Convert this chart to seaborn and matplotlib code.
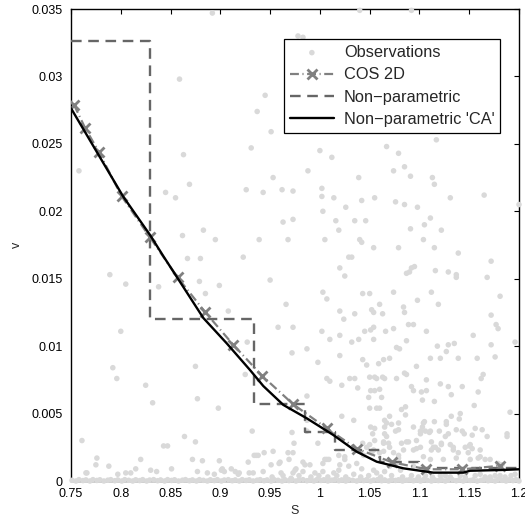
import matplotlib
matplotlib.use("Agg")
import matplotlib.pyplot as plt
import seaborn as sns
import pandas as pd

# ---------------- data ----------------
# Observations (S, v)
obs_points = [
    (0.892,0.0347),(0.859,0.0298),(0.937,0.0274),(0.931,0.0247),(0.863,0.0242),(0.758,0.0230),(0.869,0.0220),(0.926,0.0216),(0.845,0.0214),(0.855,0.0210),
    (0.883,0.0186),(0.862,0.0182),(0.895,0.0179),(0.939,0.0179),(0.867,0.0165),(0.880,0.0165),(0.923,0.0166),
    (1.040,0.0349),(1.092,0.0349),(0.978,0.0330),(0.983,0.0329),(0.945,0.0286),(0.951,0.0259),(1.000,0.0245),(1.067,0.0248),(1.079,0.0243),(1.012,0.0240),(1.117,0.0253),
    (0.953,0.0225),(0.988,0.0230),(1.039,0.0225),(1.074,0.0230),(1.085,0.0233),(1.091,0.0226),(1.113,0.0225),(1.115,0.0220),
    (0.943,0.0214),(0.962,0.0216),(0.973,0.0215),(1.002,0.0217),(1.002,0.0211),(1.014,0.0210),(1.042,0.0208),(1.055,0.0210),(1.076,0.0207),(1.085,0.0205),(1.098,0.0203),(1.131,0.0210),(1.165,0.0212),(1.200,0.0205),
    (1.003,0.0200),(1.026,0.0203),(0.963,0.0192),(0.973,0.0194),(1.016,0.0193),(1.019,0.0186),(1.035,0.0193),(1.046,0.0193),(1.091,0.0187),(1.105,0.0190),(1.111,0.0195),(1.122,0.0186),
    (0.968,0.0179),(1.005,0.0179),(1.040,0.0179),(1.042,0.0177),(1.054,0.0173),(1.079,0.0173),(1.104,0.0179),(1.115,0.0173),(1.139,0.0169),(1.029,0.0166),(1.032,0.0166),
    (1.020,0.0158),(1.025,0.0152),(0.950,0.0149),(1.095,0.0159),(1.092,0.0158),(1.087,0.0154),(1.090,0.0155),(1.116,0.0156),(1.129,0.0155),(1.137,0.0153),(1.137,0.0151),(1.168,0.0151),(1.172,0.0163),
    (1.003,0.0140),(1.007,0.0135),(1.043,0.0139),(1.050,0.0139),(1.074,0.0140),(1.112,0.0140),(1.181,0.0137),
    (0.966,0.0131),(1.098,0.0134),(1.060,0.0131),(1.052,0.0127),(1.054,0.0125),(1.084,0.0129),(1.085,0.0125),(1.119,0.0131),(1.020,0.0126),(1.035,0.0124),(1.063,0.0124),(1.172,0.0123),
    (1.024,0.0120),(0.958,0.0114),(0.973,0.0114),(1.002,0.0111),(1.020,0.0108),(1.045,0.0111),(1.051,0.0112),(1.054,0.0114),(1.066,0.0111),(1.074,0.0113),(1.089,0.0116),(1.094,0.0116),(1.107,0.0111),(1.154,0.0108),(1.177,0.0116),(1.179,0.0113),
    (1.010,0.0105),(1.032,0.0103),(1.039,0.0105),(1.054,0.0105),(1.087,0.0104),(1.118,0.0100),(1.129,0.0101),(1.135,0.0102),(1.172,0.0101),(1.196,0.0103),
    (0.972,0.0095),(0.987,0.0098),(1.020,0.0093),(1.077,0.0099),(1.080,0.0098),(1.043,0.0090),(1.047,0.0086),(1.059,0.0087),(1.064,0.0090),(1.070,0.0091),(1.127,0.0096),(1.111,0.0091),(1.121,0.0091),(1.139,0.0091),(1.158,0.0091),(1.176,0.0092),(0.998,0.0088),(1.097,0.0085),
    (1.007,0.0076),(1.010,0.0074),(1.022,0.0071),(1.030,0.0076),(1.035,0.0076),(1.050,0.0077),(1.055,0.0077),(1.057,0.0076),(1.063,0.0077),(1.065,0.0076),(1.077,0.0076),(1.085,0.0080),(1.087,0.0079),(1.107,0.0075),(1.162,0.0076),(1.164,0.0079),
    (1.038,0.0069),(1.051,0.0067),(1.055,0.0067),(1.060,0.0068),(1.092,0.0070),(1.094,0.0067),(1.102,0.0066),(1.107,0.0067),(1.121,0.0072),(1.129,0.0070),(1.143,0.0070),(1.159,0.0066),
    (0.987,0.0063),(1.049,0.0062),(1.062,0.0062),(1.103,0.0060),(1.115,0.0059),(1.132,0.0064),(1.155,0.0056),
    (1.050,0.0054),(1.057,0.0054),(1.060,0.0054),(1.082,0.0053),(1.086,0.0055),(1.141,0.0050),(1.191,0.0051),
    (1.022,0.0048),(1.034,0.0045),(1.070,0.0048),(1.072,0.0042),(1.067,0.0043),(1.079,0.0043),(1.105,0.0044),(1.103,0.0040),(1.115,0.0044),(1.127,0.0044),(1.140,0.0046),(0.987,0.0045),
    (0.972,0.0036),(0.987,0.0037),(1.051,0.0040),(1.053,0.0035),(1.055,0.0039),(1.065,0.0035),(1.067,0.0033),(1.079,0.0038),(1.094,0.0040),(1.101,0.0035),(1.110,0.0036),(1.120,0.0037),(1.126,0.0033),(1.129,0.0035),(1.143,0.0037),(1.145,0.0035),(1.153,0.0034),(1.168,0.0033),(1.188,0.0035),(1.188,0.0033),
    (0.953,0.0022),(0.998,0.0028),(1.043,0.0028),(1.047,0.0025),(1.050,0.0027),(1.064,0.0029),(1.069,0.0028),(1.087,0.0029),(1.097,0.0024),(1.101,0.0025),(1.112,0.0023),(1.116,0.0025),(1.122,0.0027),(1.134,0.0025),(1.150,0.0026),(1.153,0.0024),(1.161,0.0023),
    (0.944,0.0021),(0.968,0.0021),(0.973,0.0021),(1.005,0.0016),(1.009,0.0016),(1.019,0.0019),(1.025,0.0018),(0.960,0.0014),(0.985,0.0012),
    (0.789,0.0153),(0.805,0.0146),(0.838,0.0144),(0.879,0.0148),(0.899,0.0145),(0.885,0.0139),(0.908,0.0126),(0.800,0.0111),(0.927,0.0103),(0.792,0.0084),
    (0.796,0.0076),(0.875,0.0085),(0.925,0.0079),(0.825,0.0071),(0.832,0.0058),(0.877,0.0061),(0.898,0.0054),(0.932,0.0037),(0.864,0.0033),(0.875,0.0029),
    (0.761,0.0030),(0.843,0.0026),(0.847,0.0026),(0.936,0.0019),(0.776,0.0017),(0.820,0.0016),(0.872,0.0016),(0.882,0.0015),(0.899,0.0015),(0.928,0.0014),
    (0.775,0.0012),(0.788,0.0011),(0.815,0.0009),(0.851,0.0009),(0.911,0.0009),(0.766,0.0006),(0.797,0.0005),(0.830,0.0008),(0.836,0.0007),(0.877,0.0007),
    (0.901,0.0008),(0.915,0.0007),(0.918,0.0005),(0.929,0.0006),
    (1.065,0.0045),(1.065,0.0040),(1.076,0.0037),(1.086,0.0049),(1.104,0.0043),(1.106,0.0037),(1.111,0.0037),(1.127,0.0042),(1.132,0.0048),(1.137,0.0038),
    (1.055,0.0030),(1.064,0.0028),(1.070,0.0025),(1.082,0.0028),(1.084,0.0023),(1.089,0.0029),(1.097,0.0030),(1.101,0.0037),(1.112,0.0029),(1.114,0.0025),
    (1.119,0.0023),(1.122,0.0028),(1.131,0.0027),(1.134,0.0023),(1.139,0.0021),(1.146,0.0025),(1.149,0.0021),(1.151,0.0027),(1.161,0.0018),(1.166,0.0016),
    (1.171,0.0016),(1.156,0.0039),(1.163,0.0038),
    (1.054,0.0023),(1.060,0.0021),(1.074,0.0021),(1.079,0.0017),(1.094,0.0023),(1.104,0.0018),(1.111,0.0016),(1.124,0.0016),(1.137,0.0017),(1.151,0.0016),
    (1.159,0.0017),(1.179,0.0013),(1.183,0.0012),
    (0.983,0.0014),(0.990,0.0012),(1.003,0.0013),(1.007,0.0016),(0.975,0.0008),(0.983,0.0007),(0.995,0.0006),(1.003,0.0007),(1.014,0.0006),(1.019,0.0008),
    (1.020,0.0012),(1.025,0.0016),(1.029,0.0011),(1.037,0.0013),(1.042,0.0009),(1.054,0.0008),(1.057,0.0006),(1.065,0.0007),(1.070,0.0011),(1.077,0.0013),
    (1.081,0.0008),(1.044,0.0019),(1.052,0.0021),(1.064,0.0022),(1.079,0.0019),
    (1.094,0.0011),(1.121,0.0004),(1.141,0.0004),(1.161,0.0005),(1.181,0.0004),(1.196,0.0005),(1.106,0.0004),(1.131,0.0003),(1.171,0.0003),
    (0.765,0.0006),(0.805,0.0006),(0.810,0.0006),(0.887,0.0006),(0.894,0.0005),(0.902,0.0009),(0.904,0.0007),(0.919,0.0006),(0.934,0.0019),(0.938,0.0019),
    (0.933,0.0006),(0.943,0.0007),(0.951,0.0012),(0.959,0.0013),(0.961,0.0006),(0.969,0.0016),(0.973,0.0006),(0.974,0.0028),(0.976,0.0009),
    (0.952,0.0003),(0.963,0.0004),(0.971,0.0002),(0.979,0.0004),(0.991,0.0003),(0.999,0.0004),(1.008,0.0003),(1.017,0.0004),(1.026,0.0003),(1.034,0.0005),
    (1.041,0.0003),(1.049,0.0004),(1.061,0.0003),(1.072,0.0004),(1.083,0.0003),(1.092,0.0004),(1.099,0.0003),(1.113,0.0003),(1.126,0.0004),(1.146,0.0003),
    (1.156,0.0004),(1.166,0.0003),(1.176,0.0004),(1.186,0.0003),(1.192,0.0004),
]
# Observations lying on / near v = 0 (dense band along the bottom)
band_points = [
    (0.751,0.00005),(0.755,0.0000),(0.758,0.0001),(0.762,0.00003),(0.765,0.00008),(0.769,0.0000),(0.772,0.0001),(0.776,0.00004),(0.779,0.00009),(0.783,0.0000),
    (0.787,0.00006),(0.790,0.0001),(0.794,0.00002),(0.797,0.00008),(0.801,0.0000),(0.804,0.0001),(0.808,0.00005),(0.812,0.0000),(0.815,0.00009),(0.819,0.00003),
    (0.822,0.0001),(0.826,0.0000),(0.829,0.00007),(0.833,0.0001),(0.837,0.00002),(0.840,0.00008),(0.844,0.0000),(0.847,0.0001),(0.851,0.00004),(0.854,0.00009),
    (0.858,0.0000),(0.862,0.00006),(0.865,0.0001),(0.869,0.00002),(0.872,0.00008),(0.876,0.0000),(0.879,0.0001),(0.883,0.00005),(0.887,0.0000),(0.890,0.00009),
    (0.894,0.00003),(0.897,0.0001),(0.901,0.0000),(0.904,0.00007),(0.908,0.0001),(0.912,0.00002),(0.915,0.00008),(0.919,0.0000),(0.922,0.0001),(0.926,0.00004),
    (0.929,0.00009),(0.933,0.0000),(0.937,0.00006),(0.940,0.0001),(0.944,0.00002),(0.947,0.00008),(0.951,0.0000),(0.954,0.0001),(0.958,0.00005),(0.962,0.0000),
    (0.965,0.00009),(0.969,0.00003),(0.972,0.0001),(0.976,0.0000),(0.979,0.00007),(0.983,0.0001),(0.987,0.00002),(0.990,0.00008),(0.994,0.0000),(0.997,0.0001),
    (1.001,0.00004),(1.004,0.00009),(1.008,0.0000),(1.012,0.00006),(1.015,0.0001),(1.019,0.00002),(1.022,0.00008),(1.026,0.0000),(1.029,0.0001),(1.033,0.00005),
    (1.037,0.0000),(1.040,0.00009),(1.044,0.00003),(1.047,0.0001),(1.051,0.0000),(1.054,0.00007),(1.058,0.0001),(1.062,0.00002),(1.065,0.00008),(1.069,0.0000),
    (1.072,0.0001),(1.076,0.00004),(1.079,0.00009),(1.083,0.0000),(1.087,0.00006),(1.090,0.0001),(1.094,0.00002),(1.097,0.00008),(1.101,0.0000),(1.104,0.0001),
    (1.108,0.00005),(1.112,0.0000),(1.115,0.00009),(1.119,0.00003),(1.122,0.0001),(1.126,0.0000),(1.129,0.00007),(1.133,0.0001),(1.137,0.00002),(1.140,0.00008),
    (1.144,0.0000),(1.147,0.0001),(1.151,0.00004),(1.154,0.00009),(1.158,0.0000),(1.162,0.00006),(1.165,0.0001),(1.169,0.00002),(1.172,0.00008),(1.176,0.0000),
    (1.179,0.0001),(1.183,0.00005),(1.187,0.0000),(1.190,0.00009),(1.194,0.00003),(1.197,0.0001),(1.200,0.0000),
]

# COS 2D (marker positions)
cos_S = [0.753, 0.764, 0.778, 0.801, 0.829, 0.857, 0.885, 0.913, 0.942, 0.973, 1.007, 1.037, 1.072, 1.107, 1.143, 1.181]
cos_v = [0.0279, 0.0262, 0.0244, 0.0211, 0.0181, 0.0151, 0.0125, 0.0101, 0.0078, 0.0057, 0.0039, 0.0024, 0.0014, 0.00087, 0.00087, 0.00113]

# Non-parametric (step function, value held until next S)
np_S = [0.75, 0.8294, 0.9341, 0.985, 1.015, 1.060, 1.100, 1.200]
np_v = [0.03265, 0.0120, 0.0057, 0.00366, 0.0023, 0.00143, 0.0010, 0.0010]

# Non-parametric 'CA'
ca_S = [0.75, 0.8025, 0.8294, 0.8427, 0.8628, 0.8829, 0.9064, 0.9298, 0.9432, 0.9633, 0.9868, 1.0135, 1.037, 1.0571, 1.0838, 1.1139, 1.1441, 1.1508, 1.1842, 1.2]
ca_v = [0.02764, 0.02108, 0.01824, 0.01668, 0.01439, 0.01209, 0.01021, 0.00823, 0.00704, 0.00564, 0.00465, 0.00341, 0.00217, 0.00143, 0.00094, 0.00062, 0.00062, 0.00076, 0.00082, 0.00087]

xticks = [0.75, 0.8, 0.85, 0.9, 0.95, 1.0, 1.05, 1.1, 1.15, 1.2]
xtick_labels = ["0.75", "0.8", "0.85", "0.9", "0.95", "1", "1.05", "1.1", "1.15", "1.2"]
yticks = [0, 0.005, 0.01, 0.015, 0.02, 0.025, 0.03, 0.035]
ytick_labels = ["0", "0.005", "0.01", "0.015", "0.02", "0.025", "0.03", "0.035"]

# ---------------- plot ----------------
sns.set_style("white")
plt.rcParams["font.family"] = ["Liberation Sans", "DejaVu Sans"]

fig = plt.figure(figsize=(5.25, 5.17), dpi=100)
ax = fig.add_axes([71/525, 1-481/517, 448/525, 472/517])

all_pts = band_points + obs_points
obs_df = pd.DataFrame({"S": [p[0] for p in all_pts], "v": [p[1] for p in all_pts]})
sns.scatterplot(data=obs_df, x="S", y="v", ax=ax, color="#d9d9d9", s=16,
                edgecolor="none", linewidth=0, zorder=3, clip_on=False,
                label="Observations", legend=False)

np_df = pd.DataFrame({"S": np_S, "v": np_v})
sns.lineplot(data=np_df, x="S", y="v", ax=ax, color="#666666", linewidth=1.7,
             drawstyle="steps-post", sort=False, estimator=None, zorder=4,
             label="Non\u2212parametric", legend=False)
np_line = ax.lines[-1]
np_line.set_dashes((4.5, 2.8))

cos_df = pd.DataFrame({"S": cos_S, "v": cos_v})
sns.lineplot(data=cos_df, x="S", y="v", ax=ax, color="#808080", linewidth=1.6,
             sort=False, estimator=None, zorder=5, label="COS 2D", legend=False)
cos_line = ax.lines[-1]
cos_line.set_dashes((4, 1.6, 0.5, 1.6))
cos_line.set_marker("x")
cos_line.set_markersize(6.5)
cos_line.set_markeredgewidth(2.0)
cos_line.set_markeredgecolor("#808080")

ca_df = pd.DataFrame({"S": ca_S, "v": ca_v})
sns.lineplot(data=ca_df, x="S", y="v", ax=ax, color="black", linewidth=1.7,
             sort=False, estimator=None, zorder=6,
             label="Non\u2212parametric 'CA'", legend=False)

ax.set_xlim(0.75, 1.2)
ax.set_ylim(0, 0.035)
ax.set_xticks(xticks)
ax.set_xticklabels(xtick_labels)
ax.set_yticks(yticks)
ax.set_yticklabels(ytick_labels)
ax.tick_params(direction="in", length=3.5, width=0.8, top=True, right=True,
               labelsize=9, colors="black", pad=5)
ax.tick_params(axis="y", pad=6)
for sp in ax.spines.values():
    sp.set_visible(True)
    sp.set_color("black")
    sp.set_linewidth(1.0)
ax.set_xlabel("S", fontsize=9, labelpad=4)
ax.set_ylabel("v", fontsize=9, labelpad=6)

handles, labels = ax.get_legend_handles_labels()
order = ["Observations", "COS 2D", "Non\u2212parametric", "Non\u2212parametric 'CA'"]
hmap = dict(zip(labels, handles))
leg = ax.legend([hmap[k] for k in order], order, loc="upper right",
                bbox_to_anchor=(0.958, 0.936), fontsize=11.8, frameon=True,
                fancybox=False, framealpha=1, edgecolor="black",
                handlelength=2.7, handletextpad=0.6, labelspacing=0.45,
                borderpad=0.35, borderaxespad=0.0, markerscale=1.0)
leg.get_frame().set_linewidth(0.9)
leg.set_zorder(10)

fig.savefig("out.png", dpi=100)
